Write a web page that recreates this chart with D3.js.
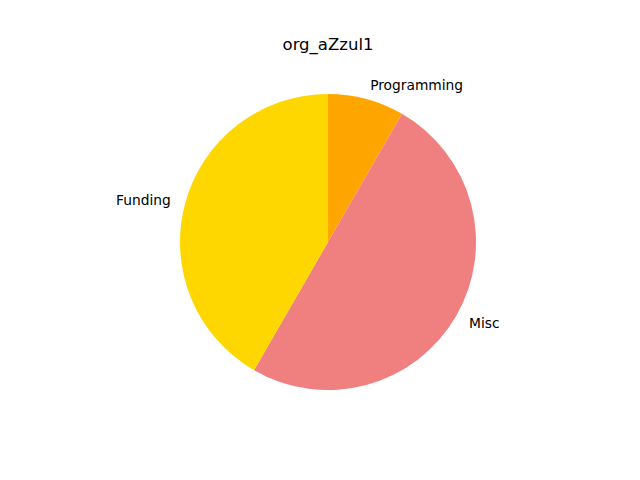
<!DOCTYPE html>
<html><head><meta charset="utf-8">
<script src="https://cdn.jsdelivr.net/npm/d3@7"></script>
<style>body{margin:0;background:#fff}</style>
</head><body>
<svg id="c" width="640" height="480"></svg>
<script>
const categories = ["Programming", "Misc", "Funding"];
const values = [1, 6, 5];
const colors = ["#FFA500", "#F08080", "#FFD700"];
const title = "org_aZzul1";

const svg = d3.select("#c");
const cx = 328, cy = 242, r = 148;
const font = "DejaVu Sans, sans-serif";

svg.append("text").attr("x", cx).attr("y", 50).attr("text-anchor", "middle")
  .attr("font-family", font).attr("font-size", 16.5).text(title);

const data = categories.map((c, i) => ({c, v: values[i], col: colors[i]}));
const pie = d3.pie().value(d => d.v).sort(null);
const arcs = pie(data);
const arc = d3.arc().innerRadius(0).outerRadius(r);
const g = svg.append("g").attr("transform", `translate(${cx},${cy})`);
g.selectAll("path").data(arcs).enter().append("path")
  .attr("d", arc).attr("fill", d => d.data.col);

arcs.forEach(a => {
  const m = (a.startAngle + a.endAngle) / 2;
  const x = 1.1 * r * Math.sin(m), y = -1.1 * r * Math.cos(m);
  g.append("text").attr("x", x).attr("y", y).attr("dy", "0.35em")
    .attr("text-anchor", x >= 0 ? "start" : "end")
    .attr("font-family", font).attr("font-size", 13.8).text(a.data.c);
});
</script>
</body></html>
